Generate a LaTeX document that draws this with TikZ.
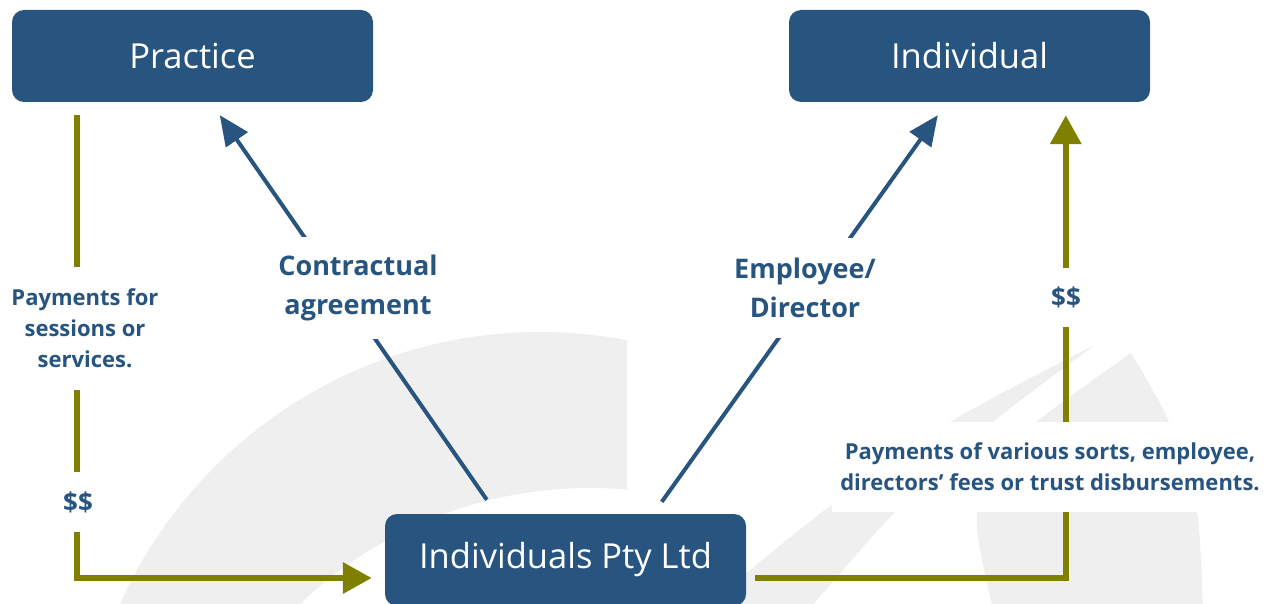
\documentclass[tikz,border=0pt]{standalone}
\usepackage{fontspec}
\setmainfont{Open Sans}
\usetikzlibrary{arrows.meta,calc}

\definecolor{navy}{RGB}{40,84,128}
\definecolor{olivegreen}{RGB}{128,128,0}
\definecolor{watermark}{RGB}{239,239,239}

\begin{document}
\begin{tikzpicture}[x=1pt,y=-1pt,
  entity/.style={fill=navy, rounded corners=12pt, text=white,
    font=\fontsize{34.5}{40}\selectfont, minimum width=361pt,
    minimum height=92pt, inner sep=0pt},
  tag/.style={fill=white, text=navy, align=center, inner xsep=4pt,
    inner ysep=0pt, font=\bfseries\fontsize{27}{39}\selectfont},
  smalltag/.style={tag, font=\bfseries\fontsize{22}{31}\selectfont},
  cashtag/.style={tag, font=\bfseries\fontsize{26}{30}\selectfont},
  navywire/.style={draw=navy, line width=4pt,
    -{Triangle[length=30pt,width=26pt]}},
  olivewire/.style={draw=olivegreen, line width=6.5pt,
    -{Triangle[length=29pt,width=30pt]}}]

\useasboundingbox (0,0) rectangle (1275,604);

% watermark shapes behind the chart
\begin{scope}
  \clip (0,0) rectangle (627,604);
  \fill[watermark, even odd rule] (540,792) circle[radius=460]
    (590,908.5) circle[radius=420.5];
\end{scope}
\fill[watermark] plot[smooth] coordinates {(1095,345) (950,422) (822,512) (690,620)}
  -- plot[smooth] coordinates {(800,620) (895,512) (993,422) (1095,345)} -- cycle;
\fill[watermark] plot[smooth] coordinates {(1131,353) (1169,422) (1197,512) (1203,620)}
  -- plot[smooth] coordinates {(996,620) (982,560) (977,512) (995,465) (1036,422) (1131,353)} -- cycle;

% entities
\node[entity] (prac) at (192.5,56) {Practice};
\node[entity] (indiv) at (969.5,56) {Individual};
\node[entity] (ipl) at (565.5,560) {Individuals Pty Ltd};

% money flows
\draw[olivewire] ([xshift=65pt,yshift=-13pt]prac.south west)
  |- ([xshift=-13pt,yshift=-18pt]ipl.west);
\draw[olivewire] ([xshift=9pt,yshift=-18pt]ipl.east)
  -| ([xshift=277pt,yshift=-13pt]indiv.south west);

% relationships
\draw[navywire] ([xshift=102pt,yshift=14pt]ipl.north west)
  -- ([xshift=208pt,yshift=-13pt]prac.south west);
\draw[navywire] ([xshift=277pt,yshift=12pt]ipl.north west)
  -- ([xshift=149pt,yshift=-13pt]indiv.south west);

% labels
\node[smalltag, minimum height=123pt] (paylabel) at (85,328.5)
  {Payments for\\sessions or\\services.};
\node[cashtag, minimum height=60pt] (cashleft) at (78,502) {\$\$};
\node[tag, minimum height=102pt] (contract) at (358,288)
  {Contractual\\agreement};
\node[tag, minimum height=100pt] (employ) at (805,288)
  {Employee/\\Director};
\node[cashtag, minimum height=59pt] (cashright) at (1066,297.5) {\$\$};
\node[smalltag, minimum height=90pt, inner xsep=8pt] (payright) at (1050,467)
  {Payments of various sorts, employee,\\directors’ fees or trust disbursements.};
\end{tikzpicture}
\end{document}
